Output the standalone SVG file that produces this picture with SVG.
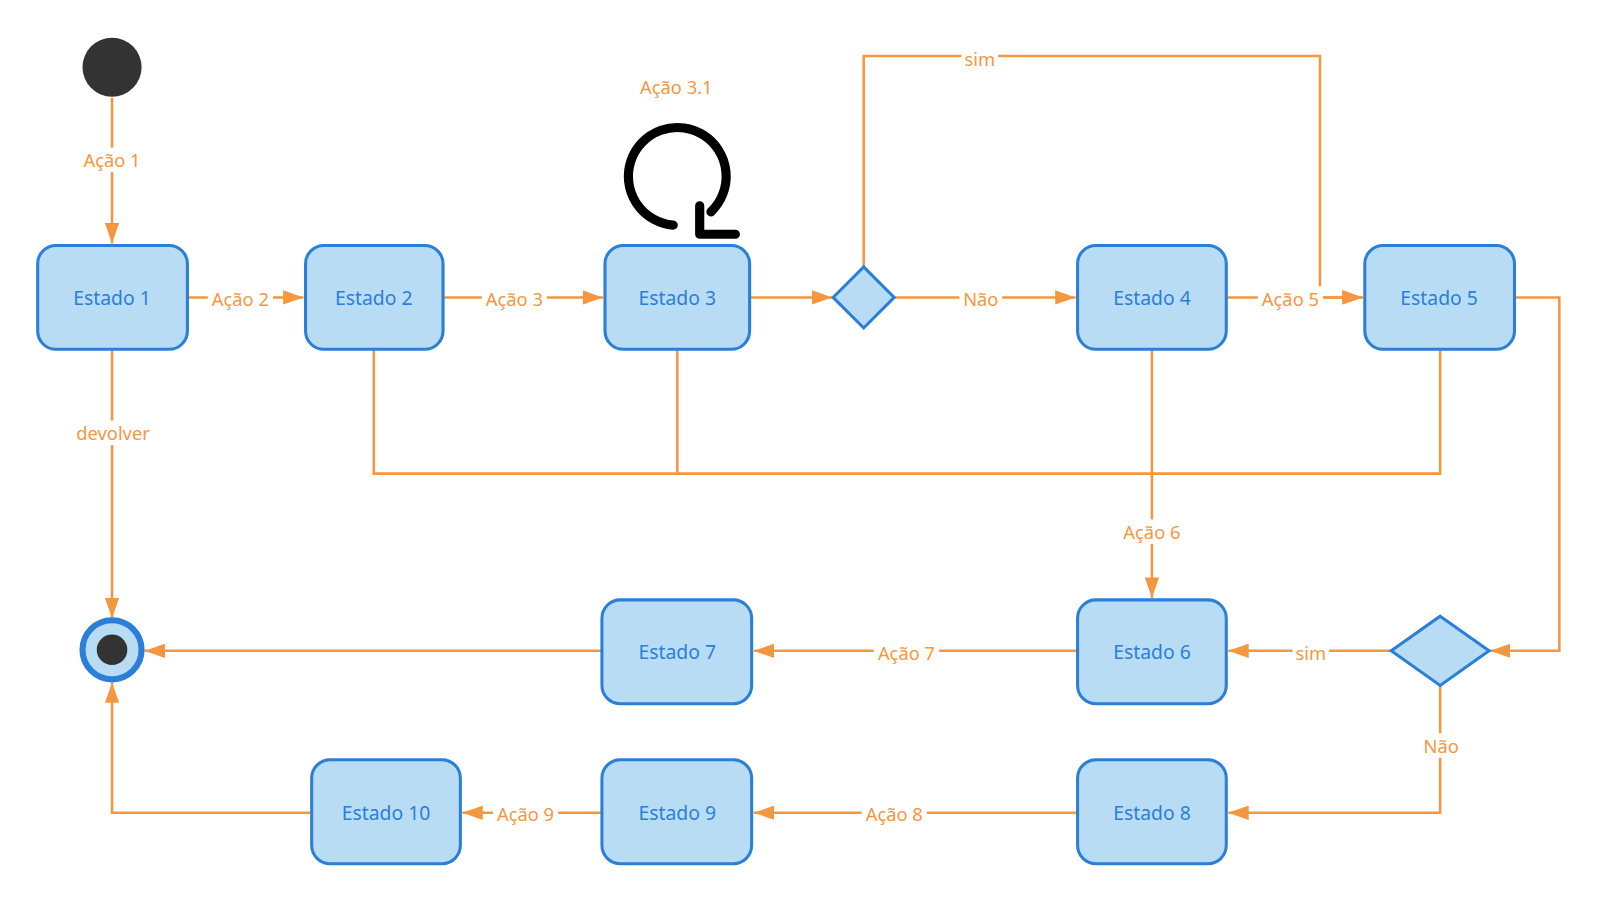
<svg xmlns="http://www.w3.org/2000/svg" width="1597" height="901" viewBox="0 0 1597 901">
<style>
.n{fill:#b9dcf5;stroke:#2a7fd8;stroke-width:3}
.t{font-family:"Segoe UI","Noto Sans","Liberation Sans",sans-serif;font-size:19px;fill:#2a7fd8;text-anchor:middle;dominant-baseline:central}
.c{fill:none;stroke:#f5973f;stroke-width:2.5}
.l{font-family:"Noto Sans","Liberation Sans",sans-serif;font-size:18px;fill:#f5973f;text-anchor:middle;dominant-baseline:central}
.lb{fill:#fff}
</style>
<defs>
<marker id="b" markerWidth="20" markerHeight="14" refX="20" refY="7" orient="auto" markerUnits="userSpaceOnUse"><path d="M0,0L20,7L0,14z" fill="#f5973f"/></marker></defs>
<rect width="1597" height="901" fill="#fff"/>
<g transform="scale(1.0185)">
<g id="connectors">
<path class="c" marker-end="url(#b)" d="M110,96V239"/>
<path class="c" marker-end="url(#b)" d="M184,292H298"/>
<path class="c" marker-end="url(#b)" d="M435,292H592"/>
<path class="c" marker-end="url(#b)" d="M736,292H817"/>
<path class="c" marker-end="url(#b)" d="M879,292H1056"/>
<path class="c" marker-end="url(#b)" d="M848,262V55H1296V292H1338"/>
<path class="c" marker-end="url(#b)" d="M1204,292H1338"/>
<path class="c" marker-end="url(#b)" d="M110,343V607"/>
<path class="c" d="M367,343V465H1414V343M665,343V465"/>
<path class="c" marker-end="url(#b)" d="M1131,343V587"/>
<path class="c" marker-end="url(#b)" d="M1487,292H1531V639H1463"/>
<path class="c" marker-end="url(#b)" d="M1366,639H1206"/>
<path class="c" marker-end="url(#b)" d="M1058,639H740"/>
<path class="c" marker-end="url(#b)" d="M591,639H142"/>
<path class="c" marker-end="url(#b)" d="M1414,673V798H1206"/>
<path class="c" marker-end="url(#b)" d="M1058,798H740"/>
<path class="c" marker-end="url(#b)" d="M591,798H454"/>
<path class="c" marker-end="url(#b)" d="M306,798H110V670"/>
<g>
<rect class="lb" x="78" y="145" width="64" height="24"/><text class="l" x="110" y="157">Ação 1</text>
<rect class="lb" x="204" y="281" width="64" height="24"/><text class="l" x="236" y="293">Ação 2</text>
<rect class="lb" x="473" y="281" width="64" height="24"/><text class="l" x="505" y="293">Ação 3</text>
<text class="l" x="664" y="85">Ação 3.1</text>
<rect class="lb" x="944" y="45" width="36" height="24"/><text class="l" x="962" y="57">sim</text>
<rect class="lb" x="942" y="281" width="42" height="24"/><text class="l" x="963" y="293">Não</text>
<rect class="lb" x="1235" y="281" width="64" height="24"/><text class="l" x="1267" y="293">Ação 5</text>
<rect class="lb" x="70" y="413" width="84" height="24"/><text class="l" x="111" y="425">devolver</text>
<rect class="lb" x="1099" y="510" width="64" height="24"/><text class="l" x="1131" y="522">Ação 6</text>
<rect class="lb" x="1269" y="629" width="36" height="24"/><text class="l" x="1287" y="641">sim</text>
<rect class="lb" x="858" y="629" width="64" height="24"/><text class="l" x="890" y="641">Ação 7</text>
<rect class="lb" x="1394" y="720" width="42" height="24"/><text class="l" x="1415" y="732">Não</text>
<rect class="lb" x="846" y="787" width="64" height="24"/><text class="l" x="878" y="799">Ação 8</text>
<rect class="lb" x="484" y="787" width="64" height="24"/><text class="l" x="516" y="799">Ação 9</text>
</g>
</g>
<g id="start"><circle cx="110" cy="66" r="29" fill="#333"/></g>
<g id="end"><circle cx="110" cy="638" r="29" fill="#b9dcf5" stroke="#2a7fd8" stroke-width="6"/><circle cx="110" cy="638" r="15" fill="#333"/></g>
<g id="e1"><rect class="n" x="37" y="241" width="147" height="102" rx="18"/><text class="t" x="110" y="292">Estado 1</text></g>
<g id="e2"><rect class="n" x="300" y="241" width="135" height="102" rx="18"/><text class="t" x="367" y="292">Estado 2</text></g>
<g id="e3"><rect class="n" x="594" y="241" width="142" height="102" rx="18"/><text class="t" x="665" y="292">Estado 3</text></g>
<g id="e4"><rect class="n" x="1058" y="241" width="146" height="102" rx="18"/><text class="t" x="1131" y="292">Estado 4</text></g>
<g id="e5"><rect class="n" x="1340" y="241" width="147" height="102" rx="18"/><text class="t" x="1413" y="292">Estado 5</text></g>
<g id="e6"><rect class="n" x="1058" y="589" width="146" height="102" rx="18"/><text class="t" x="1131" y="640">Estado 6</text></g>
<g id="e7"><rect class="n" x="591" y="589" width="147" height="102" rx="18"/><text class="t" x="665" y="640">Estado 7</text></g>
<g id="e8"><rect class="n" x="1058" y="746" width="146" height="102" rx="18"/><text class="t" x="1131" y="798">Estado 8</text></g>
<g id="e9"><rect class="n" x="591" y="746" width="147" height="102" rx="18"/><text class="t" x="665" y="798">Estado 9</text></g>
<g id="e10"><rect class="n" x="306" y="746" width="146" height="102" rx="18"/><text class="t" x="379" y="798">Estado 10</text></g>
<g id="d1"><path class="n" d="M848,262L878,292L848,322L818,292z"/></g>
<g id="d2"><path class="n" d="M1414,605L1462,639L1414,673L1366,639z"/></g>
<g id="loop" fill="none" stroke="#000" stroke-width="9" stroke-linecap="round" stroke-linejoin="round">
<path d="M661,221A48,48 0 1 1 698,208"/>
<path d="M687,202V230H722"/>
</g>
</g>
</svg>
